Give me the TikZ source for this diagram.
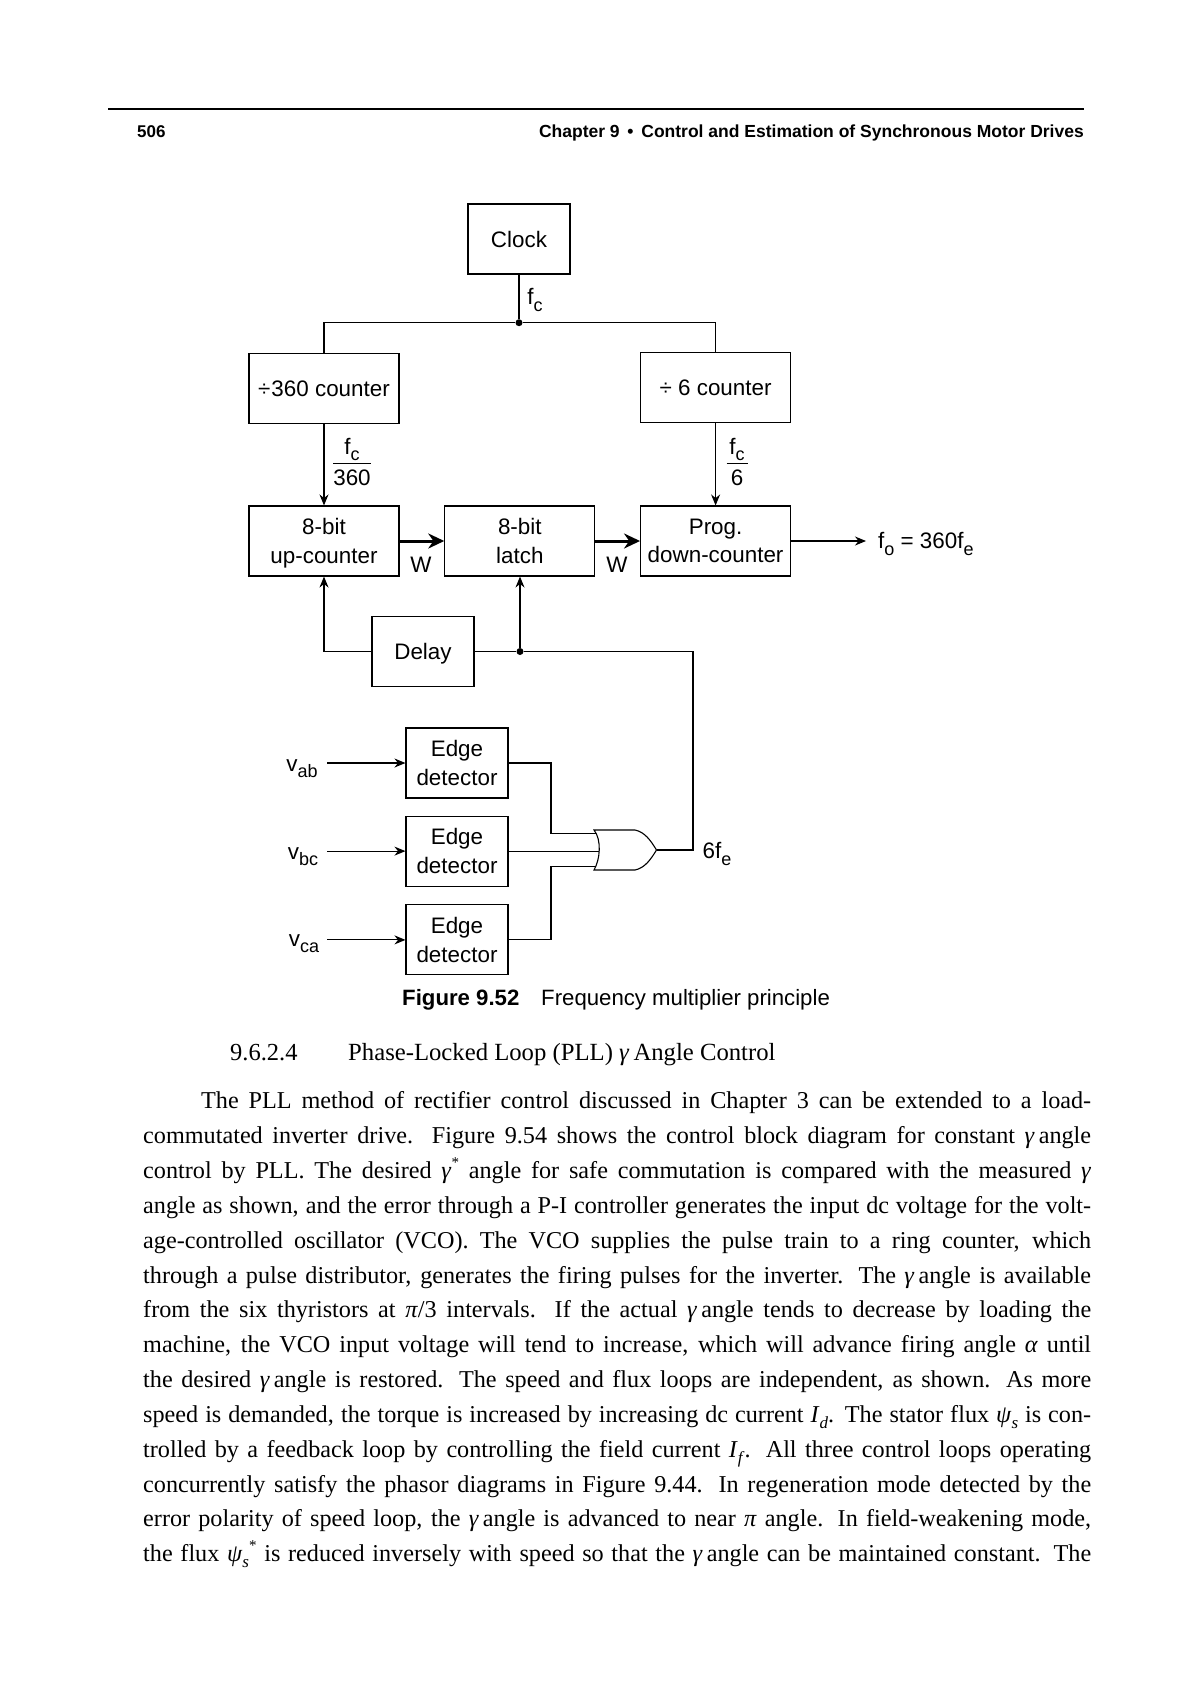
\documentclass[tikz,border=0pt]{standalone}
\usepackage{fontspec}
\setmainfont{Liberation Sans}
\newfontfamily\bookfont[WordSpace={1,1,2}]{Liberation Serif}
\usetikzlibrary{positioning, arrows.meta}
\newcommand{\lowtxt}[1]{\raisebox{-0.28em}{\fontsize{18}{18}\selectfont #1}}
\newcommand{\lowbody}[1]{\raisebox{-0.25em}{\fontsize{17}{17}\selectfont\textit{#1}}}
\newcommand{\starbody}{\raisebox{0.45em}{\fontsize{15}{15}\selectfont *}}
\newcommand{\gam}{\textit{γ}}
\newcommand{\nodepth}[1]{\raisebox{0pt}[\height][0pt]{#1}}
\newcommand{\fracbox}[2]{\begin{tabular}{@{}c@{}}#1\\[0pt]\hline\rule{0pt}{22.5pt}#2\end{tabular}}
\tikzset{
    blockbox/.style={draw, line width=1.1pt, minimum width=150pt, minimum height=70pt, inner sep=0pt, align=center, font=\fontsize{22.4}{28.5}\selectfont},
    smallbox/.style={blockbox, minimum width=102pt},
    labeltext/.style={inner sep=0pt, align=center, font=\fontsize{22.4}{28.5}\selectfont},
    wire/.style={line width=1.1pt},
    sigarrow/.style={wire, -{Stealth[length=11pt, width=9pt]}},
    busarrow/.style={line width=3pt, -{Stealth[length=16pt, width=15pt]}},
    dotnode/.style={circle, fill, inner sep=0pt, minimum size=7pt},
}
\begin{document}
\begin{tikzpicture}[x=1pt, y=-1pt]
    \useasboundingbox (0,0) rectangle (1190,1684);
    % page head
    \coordinate (headl) at (108,109);
    \coordinate (headr) at (1084,109);
    \draw [line width=2pt] (headl) -- (headr);
    \node [anchor=base west, inner sep=0pt, font=\fontsize{17}{17}\selectfont\bfseries] (pageno) at (137,137) {506};
    \node [anchor=base east, inner sep=0pt, font=\fontsize{17.5}{17.5}\selectfont\bfseries] (chapter) at (1084,137) {Chapter 9 \,•\, Control and Estimation of Synchronous Motor Drives};
    % blocks
    \node [smallbox] (clock) at (519,239) {Clock};
    \node [blockbox] (upctr) at (324,541) {8-bit\\\nodepth{up-counter}};
    \node [blockbox, right=44.7pt of upctr] (latch) {8-bit\\latch};
    \node [blockbox, right=44.7pt of latch] (prog) {Prog.\\down-counter};
    \node [blockbox, above=81.5pt of upctr] (div360) {÷\kern1pt360 counter};
    \node [blockbox, above=82.5pt of prog] (div6) {÷ 6 counter};
    \node [smallbox] (delay) at (423,651.5) {\nodepth{Delay}};
    \node [smallbox] (edgea) at (457,763) {Edge\\detector};
    \node [smallbox, below=17pt of edgea] (edgeb) {Edge\\detector};
    \node [smallbox, below=17.7pt of edgeb] (edgec) {Edge\\detector};
    % junctions
    \node [dotnode] (jclk) at (519,322.7) {};
    \node [dotnode] (jdel) at (520,651.5) {};
    % labels
    \node [labeltext] (lfc) at (535,300) {f\lowtxt{c}};
    \node [labeltext] (lfa) at (352,464.5) {\fracbox{f\lowtxt{c}}{360}};
    \node [labeltext] (lfb) at (737,464.5) {\fracbox{\makebox[21pt]{f\lowtxt{c}}}{6}};
    \node [labeltext] (lwa) at (421,565) {W};
    \node [labeltext] (lwb) at (617,565) {W};
    \node [labeltext, anchor=west, inner xsep=12pt] (lfo) at (866,544) {f\lowtxt{o} = 360f\lowtxt{e}};
    \node [labeltext] (lvab) at (302,769) {v\lowtxt{ab}};
    \node [labeltext] (lvbc) at (303,857) {v\lowtxt{bc}};
    \node [labeltext] (lvca) at (304,944) {v\lowtxt{ca}};
    \node [labeltext] (lsix) at (717,854) {6f\lowtxt{e}};
    % or gate
    \coordinate (orina) at (596,833.5);
    \coordinate (orinb) at (599,850);
    \coordinate (orinc) at (596,866.7);
    \coordinate (orout) at (656.5,850);
    \draw [wire] (594,830) -- (635,830) .. controls (645,832) and (651,841) .. (orout)
        .. controls (651,859) and (645,868) .. (635,870) -- (594,870)
        .. controls (600,860) and (602,840) .. cycle;
    % connectors
    \draw [wire] (clock) -- (jclk);
    \draw [wire] (jclk) -| (div360);
    \draw [wire] (jclk) -| (div6);
    \draw [sigarrow] (div360) -- (upctr);
    \draw [sigarrow] (div6) -- (prog);
    \draw [busarrow] (upctr) -- (latch);
    \draw [busarrow] (latch) -- (prog);
    \draw [sigarrow] (prog) -- (prog -| lfo.west);
    \draw [sigarrow] (delay) -| (upctr);
    \draw [wire] (delay) -- (jdel);
    \draw [sigarrow] (jdel) -- (jdel |- latch.south);
    \coordinate (fbk) at (693,651.5);
    \draw [wire] (orout) -| (fbk) -- (jdel);
    \coordinate (ina) at (327,763);
    \coordinate (inb) at (ina |- edgeb);
    \coordinate (inc) at (ina |- edgec);
    \draw [sigarrow] (ina) -- (edgea);
    \draw [sigarrow] (inb) -- (edgeb);
    \draw [sigarrow] (inc) -- (edgec);
    \coordinate (kneea) at (551,833.5);
    \coordinate (kneec) at (551,866.7);
    \draw [wire] (edgea) -| (kneea) -- (orina);
    \draw [wire] (edgeb) -- (edgeb -| orinb);
    \draw [wire] (edgec) -| (kneec) -- (orinc);
    % caption
    \node [anchor=base west, inner sep=0pt, font=\fontsize{22.2}{22.2}\selectfont\bfseries] (capnum) at (402,1005) {Figure 9.52};
    \node [anchor=base west, inner sep=0pt, font=\fontsize{22.2}{22.2}\selectfont] (captext) at (541,1005) {Frequency multiplier principle};
    % section text
    \node [anchor=base west, inner sep=0pt, font=\fontsize{24.5}{24.5}\selectfont\bookfont] (secno) at (230,1060.5) {9.6.2.4};
    \node [anchor=base west, inner sep=0pt, font=\fontsize{24.7}{24.7}\selectfont\bookfont] (sectitle) at (348,1060.5) {Phase-Locked Loop (PLL) \gam\,Angle Control};
    \node [anchor=north west, inner sep=0pt, text width=948pt, align=justify, font=\fontsize{24.2}{34.85}\selectfont\bookfont] (bodytext) at (143,1091.5) {%
        \parfillskip=0pt \tolerance=9999 \hbadness=10000
        \hspace*{58pt}The PLL method of rectifier control discussed in Chapter 3 can be extended to a load-\linebreak
        commutated inverter drive. Figure 9.54 shows the control block diagram for constant \gam\,angle\linebreak
        control by PLL. The desired \gam\starbody\ angle for safe commutation is compared with the measured \gam\linebreak
        angle as shown, and the error through a P-I controller generates the input dc voltage for the volt-\linebreak
        age-controlled oscillator (VCO). The VCO supplies the pulse train to a ring counter, which\linebreak
        through a pulse distributor, generates the firing pulses for the inverter. The \gam\,angle is available\linebreak
        from the six thyristors at \textit{π}/3 intervals. If the actual \gam\,angle tends to decrease by loading the\linebreak
        machine, the VCO input voltage will tend to increase, which will advance firing angle \textit{α} until\linebreak
        the desired \gam\,angle is restored. The speed and flux loops are independent, as shown. As more\linebreak
        speed is demanded, the torque is increased by increasing dc current \textit{I}\lowbody{d}. The stator flux \textit{ψ}\lowbody{s} is con-\linebreak
        trolled by a feedback loop by controlling the field current \textit{I}\lowbody{f}. All three control loops operating\linebreak
        concurrently satisfy the phasor diagrams in Figure 9.44. In regeneration mode detected by the\linebreak
        error polarity of speed loop, the \gam\,angle is advanced to near \textit{π} angle. In field-weakening mode,\linebreak
        the flux \textit{ψ}\lowbody{s}\starbody\ is reduced inversely with speed so that the \gam\,angle can be maintained constant. The\par};
\end{tikzpicture}
\end{document}
